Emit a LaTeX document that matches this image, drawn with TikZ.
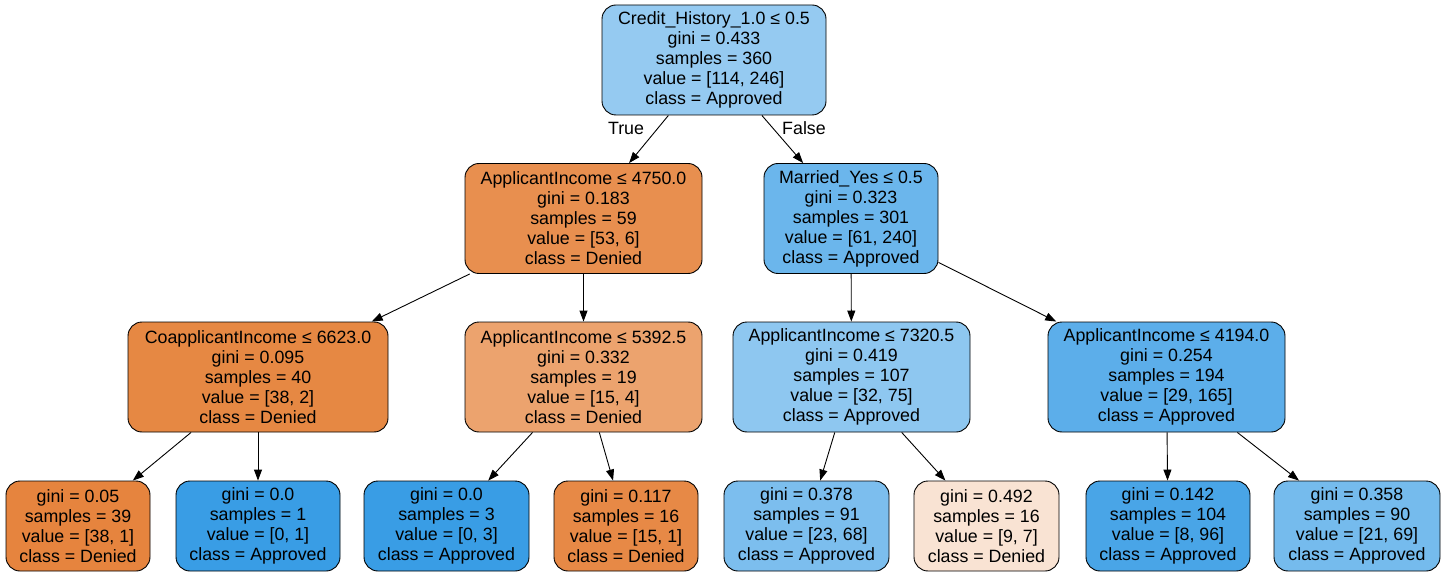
\documentclass[tikz,border=0pt]{standalone}
\usepackage{fontspec}
\setmainfont{Liberation Sans}
\usetikzlibrary{arrows.meta}
\definecolor{den}{RGB}{229,129,57}
\definecolor{app}{RGB}{57,157,229}
\begin{document}
\begin{tikzpicture}[x=1pt,y=-1pt,
  tn/.style={draw=black,line width=0.9pt,rounded corners=14pt,align=center,
    font=\fontsize{17.8}{20}\selectfont,inner sep=0pt,minimum height=110pt},
  lf/.style={tn,minimum height=90pt},
  edge/.style={draw=black,line width=0.9pt,-{Triangle[length=11pt,width=8pt]}},
  lab/.style={font=\fontsize{17.8}{20}\selectfont}]
\useasboundingbox (0,0) rectangle (1445,577);
\node[tn,fill=app!53.7!white,minimum width=224pt] (root) at (714,60)
  {Credit\_History\_1.0 ≤ 0.5\\gini = 0.433\\samples = 360\\value = [114, 246]\\class = Approved};
\node[tn,fill=den!88.7!white,minimum width=237pt] (n1) at (583.5,218.5)
  {ApplicantIncome ≤ 4750.0\\gini = 0.183\\samples = 59\\value = [53, 6]\\class = Denied};
\node[tn,fill=app!74.6!white,minimum width=174pt] (n2) at (851,218.5)
  {Married\_Yes ≤ 0.5\\gini = 0.323\\samples = 301\\value = [61, 240]\\class = Approved};
\node[tn,fill=den!94.7!white,minimum width=260pt] (n3) at (258,377)
  {CoapplicantIncome ≤ 6623.0\\gini = 0.095\\samples = 40\\value = [38, 2]\\class = Denied};
\node[tn,fill=den!73.3!white,minimum width=237pt] (n4) at (583.5,377)
  {ApplicantIncome ≤ 5392.5\\gini = 0.332\\samples = 19\\value = [15, 4]\\class = Denied};
\node[tn,fill=app!57.3!white,minimum width=237pt] (n5) at (851.5,377)
  {ApplicantIncome ≤ 7320.5\\gini = 0.419\\samples = 107\\value = [32, 75]\\class = Approved};
\node[tn,fill=app!82.4!white,minimum width=237pt] (n6) at (1166.5,377)
  {ApplicantIncome ≤ 4194.0\\gini = 0.254\\samples = 194\\value = [29, 165]\\class = Approved};
\node[lf,fill=den!97.4!white,minimum width=144pt] (l1) at (78,526)
  {gini = 0.05\\samples = 39\\value = [38, 1]\\class = Denied};
\node[lf,fill=app,minimum width=164pt] (l2) at (258,526)
  {gini = 0.0\\samples = 1\\value = [0, 1]\\class = Approved};
\node[lf,fill=app,minimum width=165pt] (l3) at (446.5,526)
  {gini = 0.0\\samples = 3\\value = [0, 3]\\class = Approved};
\node[lf,fill=den!93.3!white,minimum width=144pt] (l4) at (626,526)
  {gini = 0.117\\samples = 16\\value = [15, 1]\\class = Denied};
\node[lf,fill=app!66.2!white,minimum width=165pt] (l5) at (806.5,526)
  {gini = 0.378\\samples = 91\\value = [23, 68]\\class = Approved};
\node[lf,fill=den!22.2!white,minimum width=145pt] (l6) at (986.5,526)
  {gini = 0.492\\samples = 16\\value = [9, 7]\\class = Denied};
\node[lf,fill=app!91.7!white,minimum width=164pt] (l7) at (1168,526)
  {gini = 0.142\\samples = 104\\value = [8, 96]\\class = Approved};
\node[lf,fill=app!69.6!white,minimum width=166pt] (l8) at (1357,526)
  {gini = 0.358\\samples = 90\\value = [21, 69]\\class = Approved};
\draw[edge] (root) -- (n1);
\draw[edge] (root) -- (n2);
\draw[edge] (n1) -- (n3);
\draw[edge] (n1) -- (n4);
\draw[edge] (n2) -- (n5);
\draw[edge] (n2) -- (n6);
\draw[edge] (n3) -- (l1);
\draw[edge] (n3) -- (l2);
\draw[edge] (n4) -- (l3);
\draw[edge] (n4) -- (l4);
\draw[edge] (n5) -- (l5);
\draw[edge] (n5) -- (l6);
\draw[edge] (n6) -- (l7);
\draw[edge] (n6) -- (l8);
\node[lab] (t) at (626,128) {True};
\node[lab] (f) at (804,128) {False};
\end{tikzpicture}
\end{document}
